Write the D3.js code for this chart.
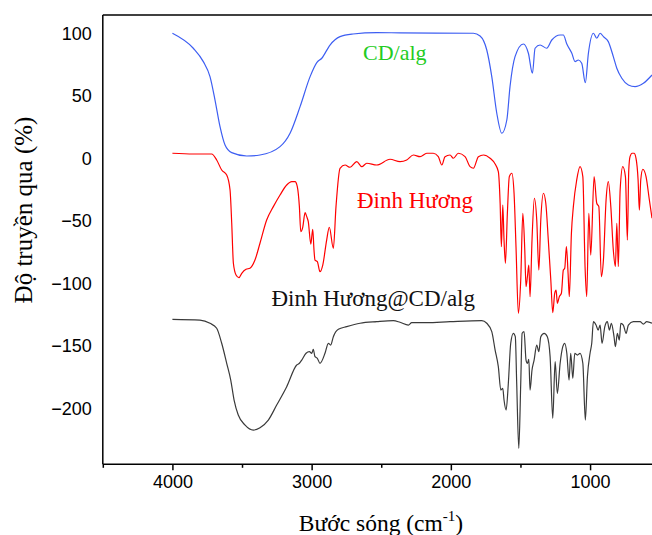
<!DOCTYPE html>
<html>
<head>
<meta charset="utf-8">
<script src="https://cdn.jsdelivr.net/npm/d3@7"></script>
<style>
  html, body { margin: 0; padding: 0; background: #fff; }
  svg { display: block; }
</style>
</head>
<body>
<svg id="chart" width="652" height="535"></svg>
<script>
// ---- data (wavenumber cm-1, transmittance %) ----
const cdAlgWave = [4000,3850,3778,3730,3694,3658,3622,3574,3466,3371,3227,3155,3083,3011,2963,2927,2868,2796,2703,2532,2365,1838,1790,1742,1706,1670,1634,1598,1575,1539,1479,1443,1414,1395,1359,1311,1275,1215,1192,1167,1131,1108,1084,1060,1034,1012,976,952,928,904,869,833,808,772,725,677,617,555];
const cdAlgT = [100,88,77.3,65.3,46.6,25.3,10.6,4.5,1.8,2.6,9.3,20,41.3,65.3,76.5,80,90.6,97.3,99.4,100.5,100.3,100,97.8,86.6,65.3,36,20,30.6,57.3,81.3,91.4,84,68,88,90.6,88,94.6,98.6,98.6,91.4,84,77.3,78.6,76,60.5,84,100,96,100,97.3,93.3,81.3,72,64,58.6,57.3,60,66.6];

const dinhHuongWave = [4000,3850,3718,3682,3646,3610,3586,3574,3562,3543,3522,3502,3471,3443,3407,3371,3323,3275,3227,3179,3143,3119,3103,3088,3078,3064,3047,3035,3024,3006,2992,2983,2976,2959,2940,2920,2892,2873,2844,2825,2796,2760,2724,2676,2640,2604,2532,2437,2365,2317,2269,2221,2173,2126,2090,2065,2042,2006,1982,1946,1898,1862,1838,1802,1766,1718,1682,1659,1646,1637,1627,1618,1608,1594,1580,1562,1546,1532,1515,1498,1483,1469,1460,1450,1440,1431,1417,1400,1383,1368,1354,1335,1318,1300,1282,1268,1254,1244,1235,1221,1206,1192,1182,1170,1158,1149,1134,1120,1096,1072,1052,1036,1024,1009,995,971,952,937,919,904,885,869,851,833,818,808,797,784,765,746,732,722,713,698,684,670,655,646,636,621,598,574,555];
const dinhHuongT = [4,3.4,3.4,-1.4,-9.4,-13.4,-25.4,-51.8,-84,-93.4,-95.5,-92,-88.8,-88,-81.4,-68,-49.4,-38.7,-29.4,-21.4,-18.7,-18.7,-22.7,-38.7,-58.7,-55.2,-43.5,-46.7,-50.7,-68.6,-56.8,-73.4,-81.4,-82.7,-90.7,-85.4,-65.4,-55.2,-72,-38.7,-8,-5.4,-7.2,-2.7,-6.7,-4,-5.4,-0.8,-2.7,-1.4,2.6,1.3,4,4,1.3,-5.4,1.3,2.6,0,4,1.3,-6.7,-8,1.3,2.6,0,-4.6,-10.7,-36,-70.7,-37.4,-65.4,-84,-44,-14.7,-12,-28,-70.7,-124,-97.4,-44,-73.4,-102.7,-94.7,-85.4,-110.7,-65.4,-32,-49.4,-89.4,-49.4,-28,-36,-65.4,-97.4,-123.5,-108,-105.4,-116,-110.7,-108,-89.4,-88,-70.7,-92,-110.7,-60,-38.7,-17.4,-6.7,-14.7,-86.7,-110.7,-44,-77.4,-14.7,-36,-38.7,-94.7,-81.4,-33.4,-18.7,-38.7,-73.4,-86.7,-52,-86.7,-25.4,-6.7,-14.7,-65.4,-9.4,1.3,4,4,0,-17.4,-41.4,-17.4,-8.8,-14.7,-33.4,-48];

const compositeWave = [4000,3802,3730,3682,3646,3610,3581,3557,3527,3478,3419,3371,3311,3251,3179,3107,3088,3071,3040,3016,2999,2988,2976,2959,2940,2904,2880,2863,2844,2808,2748,2652,2532,2413,2365,2305,2281,2173,2006,1778,1742,1706,1682,1659,1641,1627,1618,1603,1587,1570,1551,1537,1527,1512,1498,1488,1474,1460,1450,1440,1431,1417,1402,1383,1368,1354,1330,1307,1287,1268,1251,1235,1215,1196,1182,1167,1151,1139,1124,1110,1091,1072,1052,1034,1019,1000,988,976,957,942,928,914,894,876,861,847,828,818,804,790,779,761,741,725,689,641,617,593,555];
const compositeT = [-128.8,-129.4,-132,-136,-148,-164,-177.4,-193.4,-205.4,-213.4,-217.4,-215.5,-209.4,-197.4,-182.7,-165.4,-164,-161.4,-156,-154.7,-156,-152.8,-158.7,-160,-164,-156,-148,-149.4,-142.7,-136.8,-134.7,-132,-130.7,-129.9,-131.2,-133.4,-131.5,-131.5,-130.7,-129.9,-132,-138.7,-153.4,-166.7,-185.4,-184,-193.4,-201.4,-180,-148,-140,-142.7,-180,-232,-180,-140,-138.7,-161.4,-164,-160.8,-185.4,-169.4,-161.4,-149.4,-154.7,-142.7,-140,-142.7,-158.7,-208,-162.7,-188,-164,-150.7,-148,-156,-177.4,-156,-176,-156,-157.4,-156,-164,-209.4,-174.7,-156,-148,-130.7,-133.4,-137.4,-133.4,-148,-134.7,-130.7,-137.4,-132,-142.7,-150.7,-140,-145.4,-132,-133.4,-140,-133.4,-130.7,-130.7,-132.6,-130.7,-132];

const xTicks = [4000, 3000, 2000, 1000];
const xMinorTicks = [4500, 3500, 2500, 1500, 500];
const yTicks = [100, 50, 0, -50, -100, -150, -200];

const seriesNames = ["CD/alg", "Đinh Hương", "Đinh Hương@CD/alg"];
const seriesColors = ["#3d5ef2", "#ff0000", "#3a3a3a"];
const labelColors = ["#22cc22", "#ff0000", "#111111"];

(function () {
  const W = 652, H = 535;
  const svg = d3.select("#chart");
  svg.append("rect").attr("width", W).attr("height", H).attr("fill", "#fff");

  const x = d3.scaleLinear().domain([4500, 400]).range([102.8, 673.6]);
  const y = d3.scaleLinear().domain([-244.8, 114.6]).range([464.3, 15]);
  const pL = x(4500), pR = W, pT = y(114.6), pB = y(-244.8);

  svg.append("clipPath").attr("id", "plotclip")
    .append("rect").attr("x", pL).attr("y", pT).attr("width", pR - pL).attr("height", pB - pT);

  const series = [
    { wave: cdAlgWave, t: cdAlgT },
    { wave: dinhHuongWave, t: dinhHuongT },
    { wave: compositeWave, t: compositeT }
  ];

  const line = d3.line()
    .x(d => x(d[0]))
    .y(d => y(d[1]))
    .curve(d3.curveMonotoneX);

  const g = svg.append("g").attr("clip-path", "url(#plotclip)");
  series.forEach((s, i) => {
    const n = Math.min(s.wave.length, s.t.length);
    const pts = d3.range(n).map(k => [s.wave[k], s.t[k]]);
    g.append("path")
      .attr("d", line(pts))
      .attr("fill", "none")
      .attr("stroke", seriesColors[i])
      .attr("stroke-width", 1.2)
      .attr("stroke-linejoin", "round");
  });

  const sans = "'Liberation Sans', Arial, sans-serif";
  const serif = "'Liberation Serif', 'Times New Roman', serif";

  const xAxis = svg.append("g").attr("transform", `translate(0,${pB})`)
    .call(d3.axisBottom(x).tickValues(xTicks).tickSize(6).tickPadding(5).tickFormat(d3.format("d")));
  xAxis.select(".domain").remove();
  xAxis.selectAll("line").attr("stroke", "#000").attr("stroke-width", 1.5);
  xAxis.selectAll("text").attr("font-family", sans).attr("font-size", 18).attr("fill", "#000");

  const xMinor = svg.append("g").attr("transform", `translate(0,${pB})`)
    .call(d3.axisBottom(x).tickValues(xMinorTicks).tickSize(3.5).tickFormat(""));
  xMinor.select(".domain").remove();
  xMinor.selectAll("line").attr("stroke", "#000").attr("stroke-width", 1.5);

  const yAxis = svg.append("g").attr("transform", `translate(${pL},0)`)
    .call(d3.axisLeft(y).tickValues(yTicks).tickSize(0).tickPadding(11));
  yAxis.select(".domain").remove();
  yAxis.selectAll("text").attr("font-family", sans).attr("font-size", 18).attr("fill", "#000");

  svg.append("line").attr("x1", pL).attr("x2", pR).attr("y1", pB).attr("y2", pB)
    .attr("stroke", "#000").attr("stroke-width", 1.5);
  svg.append("line").attr("x1", pL).attr("x2", pL).attr("y1", pT).attr("y2", pB)
    .attr("stroke", "#000").attr("stroke-width", 1.5);
  svg.append("line").attr("x1", pL).attr("x2", pR).attr("y1", pT).attr("y2", pT)
    .attr("stroke", "#000").attr("stroke-width", 1.5);

  const xt = svg.append("text").attr("x", 381).attr("y", 531).attr("text-anchor", "middle")
    .attr("font-family", serif).attr("font-size", 23.5).attr("fill", "#000");
  xt.append("tspan").text("Bước sóng (cm");
  xt.append("tspan").attr("font-size", 15).attr("dy", -10).text("-1");
  xt.append("tspan").attr("dy", 10).text(")");

  svg.append("text")
    .attr("transform", "translate(32,210) rotate(-90)")
    .attr("text-anchor", "middle")
    .attr("font-family", serif).attr("font-size", 25).attr("fill", "#000")
    .text("Độ truyền qua (%)");

  const labelPos = [[363, 60, "start", 22], [357, 208, "start", 23], [475, 306, "end", 23]];
  seriesNames.forEach((n, i) => {
    svg.append("text")
      .attr("x", labelPos[i][0]).attr("y", labelPos[i][1])
      .attr("text-anchor", labelPos[i][2])
      .attr("font-family", serif).attr("font-size", labelPos[i][3])
      .attr("fill", labelColors[i])
      .text(n);
  });
})();
</script>
</body>
</html>
